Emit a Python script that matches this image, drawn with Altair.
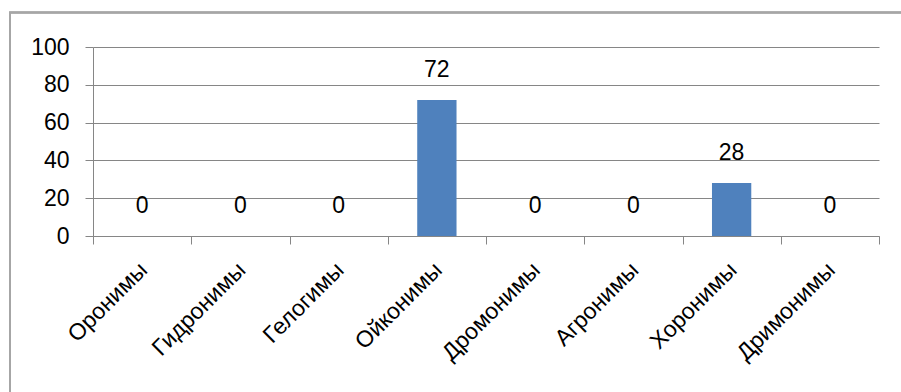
import altair as alt
import pandas as pd

categories = ["Оронимы", "Гидронимы", "Гелогимы", "Ойконимы", "Дромонимы", "Агронимы", "Хоронимы", "Дримонимы"]
values = [0, 0, 0, 72, 0, 0, 28, 0]
y_ticks = [0, 20, 40, 60, 80, 100]

df = pd.DataFrame({"cat": categories, "val": values})

FONT = "Liberation Sans"
GRID = "#868686"

x = alt.X("cat:N", sort=categories, title=None,
          scale=alt.Scale(paddingInner=0, paddingOuter=0),
          axis=alt.Axis(labelAngle=-45, labelAlign="right", labelBaseline="middle",
                        labelFont=FONT, labelFontSize=23, labelColor="black",
                        labelPadding=22, tickSize=8, tickColor=GRID, domainColor=GRID,
                        tickBand="extent", labelOffset=1, labelOverlap=False, labelBound=False))
y = alt.Y("val:Q", title=None, scale=alt.Scale(domain=[0, 100], nice=False),
          axis=alt.Axis(values=y_ticks, labelFont=FONT, labelFontSize=23,
                        labelColor="black", labelPadding=16, tickSize=8, tickColor=GRID,
                        domainColor=GRID, gridColor=GRID, gridOpacity=1, labelOverlap=False,
                        labelBound=False, labelFlush=False))

frame = alt.Chart(df).mark_rect(fill=None, stroke="#a6a6a6", strokeWidth=1.5).encode(
    x=alt.value(-83), x2=alt.value(1000), y=alt.value(-34.5), y2=alt.value(500))

bars = alt.Chart(df).mark_bar(color="#4F81BD", width=alt.RelativeBandSize(0.4)).encode(x=x, y=y)
labels = alt.Chart(df).mark_text(font=FONT, fontSize=23, color="black", baseline="middle", dy=-30).encode(
    x=x, y=y, text="val:Q")

chart = alt.layer(frame, bars, labels).properties(
    width=786, height=189,
    autosize=alt.AutoSizeParams(type="none"),
    padding={"left": 93, "top": 47, "right": 22, "bottom": 156},
).configure_view(stroke=None)

chart.save("out.html", embed_options={"renderer": "svg", "actions": False})
